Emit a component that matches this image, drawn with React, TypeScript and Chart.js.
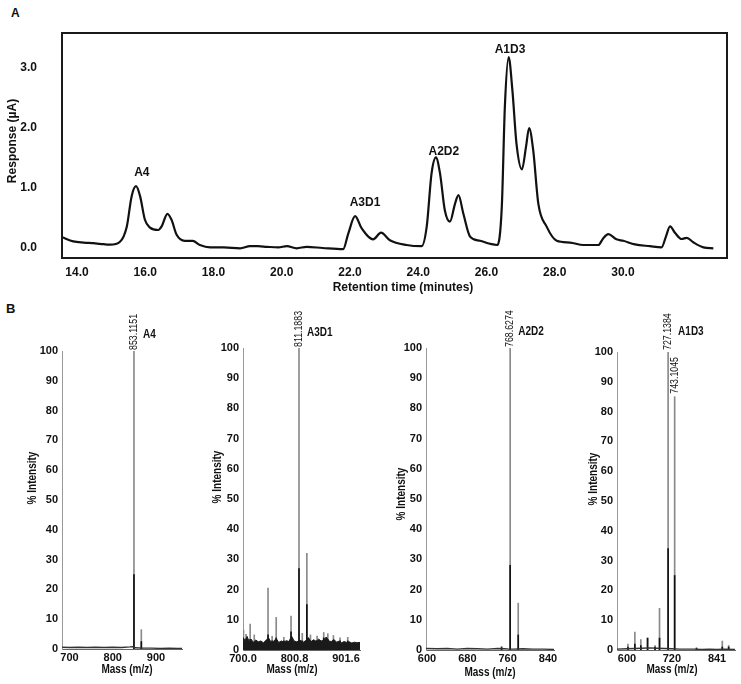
import React, { useEffect, useRef } from "react";
import { Chart, registerables } from "chart.js";
Chart.register(...registerables);

const SANS = '"Liberation Sans", Arial, sans-serif';

// ---------- Panel A: chromatogram ----------
const retentionTime = [13.56, 13.89, 14.2, 14.48, 14.67, 14.97, 15.26, 15.46, 15.6, 15.73, 15.85, 15.99, 16.14, 16.38, 16.48, 16.65, 16.77, 16.92, 17.16, 17.39, 17.6, 17.9, 18.3, 18.78, 19.07, 19.3, 19.56, 19.9, 20.15, 20.44, 20.73, 21.2, 21.8, 21.95, 22.15, 22.34, 22.68, 22.91, 23.17, 23.66, 24.1, 24.25, 24.39, 24.52, 24.64, 24.78, 24.93, 25.08, 25.18, 25.32, 25.52, 25.81, 26.1, 26.32, 26.45, 26.54, 26.65, 26.76, 26.88, 27.04, 27.16, 27.25, 27.37, 27.52, 27.76, 28.06, 28.45, 28.84, 29.28, 29.42, 29.57, 29.81, 30.01, 30.35, 30.79, 31.13, 31.26, 31.38, 31.53, 31.72, 31.87, 32.06, 32.36, 32.65];
const responseUA = [0.18, 0.11, 0.09, 0.08, 0.07, 0.055, 0.105, 0.36, 0.86, 1.03, 0.86, 0.47, 0.34, 0.3, 0.36, 0.57, 0.47, 0.22, 0.12, 0.12, 0.05, 0.01, 0.01, -0.005, 0.03, 0.03, 0.02, 0.01, 0.03, -0.005, 0.02, 0.0, -0.02, 0.24, 0.53, 0.33, 0.145, 0.255, 0.13, 0.05, 0.03, 0.36, 1.24, 1.51, 1.24, 0.63, 0.44, 0.74, 0.88, 0.58, 0.19, 0.12, 0.07, 0.05, 0.69, 2.36, 3.18, 2.63, 1.74, 1.31, 1.69, 2.0, 1.63, 0.74, 0.36, 0.12, 0.09, 0.05, 0.05, 0.16, 0.23, 0.145, 0.12, 0.06, 0.03, 0.01, 0.19, 0.36, 0.25, 0.15, 0.17, 0.095, 0.01, -0.005];
const chromTicksX = [14, 16, 18, 20, 22, 24, 26, 28, 30];
const chromTicksY = [0, 1, 2, 3];
const chromPeakNames = ["A4", "A3D1", "A2D2", "A1D3"];
const chromPeakNameTime = [15.9, 22.44, 24.75, 26.69];
const chromPeakNameResp = [1.25, 0.75, 1.6, 3.3];

// ---------- Panel B: mass spectra ----------
const intensityTicks = [0, 10, 20, 30, 40, 50, 60, 70, 80, 90, 100];

// A4
const a4TicksX = [700, 800, 900];
const a4TickLabels = ["700", "800", "900"];
const a4PeakMass = [849, 866];
const a4PeakTop = [100, 6.5];
const a4PeakCore = [25, 2.5];
const a4BaseMass = [683, 700, 720, 740, 760, 780, 800, 820, 840, 846, 852, 870, 890, 910, 930, 950, 960];
const a4BaseVal = [0.6, 0.5, 0.6, 0.5, 0.6, 0.5, 0.6, 0.5, 0.7, 0.8, 0.4, 0.3, 0.3, 0.2, 0.3, 0.2, 0.2];

// A3D1
const a3d1TicksX = [700.0, 800.8, 901.6];
const a3d1TickLabels = ["700.0", "800.8", "901.6"];
const a3d1PeakMass = [701, 706, 714, 722, 749, 757, 765, 780, 794, 809.6, 816, 825, 832, 845, 858, 866, 877, 890, 905];
const a3d1PeakTop = [6.6, 5.2, 8.6, 5.0, 20.5, 4.5, 10.8, 4.2, 11.2, 100, 5.5, 32, 5.0, 4.6, 5.8, 5.4, 4.8, 4.0, 4.2];
const a3d1PeakCore = [3, 3, 3.5, 2.5, 5, 3, 4, 3, 6, 27, 3, 15, 3, 3, 4, 3.5, 3, 3, 3];
const a3d1NoiseMass = [700, 704, 708, 712, 716, 720, 725, 730, 735, 740, 745, 750, 755, 760, 765, 770, 775, 780, 785, 790, 795, 800, 805, 812, 818, 822, 828, 833, 838, 843, 848, 853, 858, 863, 868, 873, 878, 883, 888, 893, 898, 903, 908, 913, 918, 923, 929];
const a3d1NoiseTop = [4.2, 3.1, 4.5, 2.8, 3.6, 2.5, 3.3, 2.7, 3.0, 2.4, 3.2, 4.0, 2.6, 2.9, 3.8, 2.5, 3.0, 2.6, 3.1, 2.8, 4.6, 3.0, 2.7, 3.2, 2.6, 3.0, 4.1, 2.7, 3.4, 2.9, 3.6, 3.0, 3.2, 4.3, 3.0, 2.8, 3.5, 2.6, 2.9, 2.4, 2.8, 2.5, 2.7, 2.3, 2.6, 2.4, 2.5];

// A2D2
const a2d2TicksX = [600, 680, 760, 840];
const a2d2TickLabels = ["600", "680", "760", "840"];
const a2d2PeakMass = [748, 765, 781];
const a2d2PeakTop = [1.2, 100, 15.5];
const a2d2PeakCore = [0.8, 28, 5];
const a2d2BaseMass = [598, 620, 640, 660, 680, 700, 720, 740, 755, 762, 772, 790, 810, 830, 852];
const a2d2BaseVal = [0.5, 0.4, 0.5, 0.3, 0.5, 0.4, 0.3, 0.5, 0.4, 0.3, 0.3, 0.4, 0.3, 0.3, 0.2];

// A1D3
const a1d3TicksX = [600, 720, 841];
const a1d3TickLabels = ["600", "720", "841"];
const a1d3PeakMass = [602.5, 621, 637, 655, 675, 687, 710, 727.5, 786, 855, 872];
const a1d3PeakTop = [2.0, 6.0, 3.5, 4.0, 1.5, 14, 100, 85, 0.8, 3.0, 1.5];
const a1d3PeakCore = [1, 2, 1.5, 4, 1, 4, 34, 25, 0.5, 1, 1];
const a1d3BaseMass = [573, 600, 620, 640, 660, 680, 700, 720, 740, 760, 780, 800, 820, 840, 860, 889];
const a1d3BaseVal = [0.3, 0.4, 0.5, 0.6, 0.7, 0.6, 0.5, 0.4, 0.3, 0.3, 0.3, 0.2, 0.3, 0.2, 0.3, 0.2];

type Box = { x: number; y: number; w: number; h: number };
type Area = { l: number; t: number; r: number; b: number };
type TextItem = {
  text: string;
  font: string;
  page?: [number, number];
  data?: [number, number];
  dx?: number;
  dy?: number;
  rotate?: number;
  sx?: number;
  align?: CanvasTextAlign;
  baseline?: CanvasTextBaseline;
  color?: string;
};

function textLayer(box: Box, items: TextItem[]) {
  return {
    id: "textLayer",
    afterDraw(chart: any) {
      const ctx = chart.ctx;
      for (const it of items) {
        let x = 0;
        let y = 0;
        if (it.data) {
          x = chart.scales.x.getPixelForValue(it.data[0]);
          y = chart.scales.y.getPixelForValue(it.data[1]);
        } else if (it.page) {
          x = it.page[0] - box.x;
          y = it.page[1] - box.y;
        }
        x += it.dx || 0;
        y += it.dy || 0;
        ctx.save();
        ctx.translate(x, y);
        if (it.rotate) ctx.rotate(it.rotate);
        if (it.sx) ctx.scale(it.sx, 1);
        ctx.font = it.font;
        ctx.fillStyle = it.color || "#111";
        ctx.textAlign = it.align || "center";
        ctx.textBaseline = it.baseline || "middle";
        ctx.fillText(it.text, 0, 0);
        ctx.restore();
      }
    },
  };
}

const frameBox = {
  id: "frameBox",
  afterDatasetsDraw(chart: any) {
    const { ctx, chartArea: a } = chart;
    ctx.save();
    ctx.strokeStyle = "#1a1a1a";
    ctx.lineWidth = 2;
    ctx.strokeRect(a.left, a.top, a.right - a.left, a.bottom - a.top);
    ctx.restore();
  },
};

function frame(box: Box, area: Area) {
  return {
    padding: { left: 0, top: area.t - box.y, right: box.x + box.w - area.r, bottom: 0 },
    yWidth: area.l - box.x,
    xHeight: box.y + box.h - area.b,
  };
}

function ChartCanvas({ box, build }: { box: Box; build: () => any }) {
  const ref = useRef<HTMLCanvasElement>(null);
  useEffect(() => {
    const chart = new Chart(ref.current as HTMLCanvasElement, build());
    return () => chart.destroy();
  }, []);
  return (
    <canvas
      ref={ref}
      width={box.w}
      height={box.h}
      style={{ position: "absolute", left: box.x, top: box.y, width: box.w, height: box.h }}
    />
  );
}

// ---------- Panel A config ----------
const chromBox: Box = { x: 0, y: 0, w: 741, h: 300 };
const chromArea: Area = { l: 62, t: 33, r: 727, b: 258 };

function buildChrom() {
  const f = frame(chromBox, chromArea);
  const items: TextItem[] = [
    { text: "Retention time (minutes)", font: `bold 12px ${SANS}`, page: [403, 288] },
    { text: "Response (\u00b5A)", font: `bold 12px ${SANS}`, page: [13, 141], rotate: -Math.PI / 2 },
    ...chromPeakNames.map((n, i) => ({
      text: n,
      font: `bold 12px ${SANS}`,
      data: [chromPeakNameTime[i], chromPeakNameResp[i]] as [number, number],
    })),
  ];
  return {
    type: "line",
    data: {
      datasets: [
        {
          data: retentionTime.map((t, i) => ({ x: t, y: responseUA[i] })),
          borderColor: "#111",
          borderWidth: 2.2,
          pointRadius: 0,
          cubicInterpolationMode: "monotone",
          fill: false,
        },
      ],
    },
    options: {
      animation: false,
      responsive: false,
      events: [],
      layout: { padding: f.padding },
      plugins: { legend: { display: false }, tooltip: { enabled: false } },
      scales: {
        x: {
          type: "linear",
          min: 13.56,
          max: 33.05,
          grid: { display: false, drawTicks: false },
          border: { display: false },
          afterBuildTicks: (s: any) => {
            s.ticks = chromTicksX.map((v) => ({ value: v }));
          },
          afterFit: (s: any) => {
            s.height = f.xHeight;
          },
          ticks: {
            padding: 7,
            autoSkip: false,
            maxRotation: 0,
            color: "#111",
            font: { family: SANS, size: 12, weight: "bold" },
            callback: (v: any) => Number(v).toFixed(1),
          },
        },
        y: {
          type: "linear",
          min: -0.1667,
          max: 3.583,
          grid: { display: false, drawTicks: false },
          border: { display: false },
          afterBuildTicks: (s: any) => {
            s.ticks = chromTicksY.map((v) => ({ value: v }));
          },
          afterFit: (s: any) => {
            s.width = f.yWidth;
          },
          ticks: {
            padding: 25,
            color: "#111",
            font: { family: SANS, size: 12, weight: "bold" },
            callback: (v: any) => Number(v).toFixed(1),
          },
        },
      },
    },
    plugins: [frameBox, textLayer(chromBox, items)],
  };
}

// ---------- Panel B config ----------
type Spec = {
  box: Box;
  area: Area;
  range: [number, number];
  ticksX: number[];
  tickLabels: string[];
  peakMass: number[];
  peakTop: number[];
  peakCore: number[];
  baseMass?: number[];
  baseVal?: number[];
  noiseMass?: number[];
  noiseTop?: number[];
  texts: TextItem[];
};

function buildSpec(s: Spec) {
  const f = frame(s.box, s.area);
  const datasets: any[] = [
    {
      type: "bar",
      data: s.peakMass.map((m, i) => ({ x: m, y: s.peakTop[i] })),
      backgroundColor: "#8a8a8a",
      barThickness: 1,
      grouped: false,
      borderWidth: 0,
      order: 4,
    },
    {
      type: "bar",
      data: s.peakMass.map((m, i) => ({ x: m, y: s.peakCore[i] })),
      backgroundColor: "#111",
      barThickness: 1,
      grouped: false,
      borderWidth: 0,
      order: 3,
    },
  ];
  if (s.baseMass && s.baseVal) {
    datasets.push({
      type: "line",
      data: s.baseMass.map((m, i) => ({ x: m, y: s.baseVal![i] })),
      borderColor: "#333",
      borderWidth: 1.4,
      pointRadius: 0,
      fill: false,
      order: 2,
    });
  }
  if (s.noiseMass && s.noiseTop) {
    datasets.push({
      type: "line",
      data: s.noiseMass.map((m, i) => ({ x: m, y: s.noiseTop![i] })),
      borderColor: "#1a1a1a",
      backgroundColor: "#1a1a1a",
      borderWidth: 1,
      pointRadius: 0,
      fill: "origin",
      order: 1,
    });
  }
  return {
    type: "bar",
    data: { datasets },
    options: {
      animation: false,
      responsive: false,
      events: [],
      layout: { padding: f.padding },
      plugins: { legend: { display: false }, tooltip: { enabled: false } },
      scales: {
        x: {
          type: "linear",
          min: s.range[0],
          max: s.range[1],
          offset: false,
          grid: { display: false, drawTicks: false },
          border: { display: true, color: "#666", width: 1 },
          afterBuildTicks: (sc: any) => {
            sc.ticks = s.ticksX.map((v) => ({ value: v }));
          },
          afterFit: (sc: any) => {
            sc.height = f.xHeight;
          },
          ticks: {
            padding: 2,
            autoSkip: false,
            maxRotation: 0,
            color: "#111",
            font: { family: SANS, size: 11, weight: "bold" },
            callback: (_v: any, i: number) => s.tickLabels[i],
          },
        },
        y: {
          type: "linear",
          min: 0,
          max: 100,
          grid: { display: false, drawTicks: false },
          border: { display: true, color: "#999", width: 1 },
          afterBuildTicks: (sc: any) => {
            sc.ticks = intensityTicks.map((v) => ({ value: v }));
          },
          afterFit: (sc: any) => {
            sc.width = f.yWidth;
          },
          ticks: {
            padding: 4,
            color: "#111",
            font: { family: SANS, size: 11, weight: "bold" },
            callback: (v: any) => String(v),
          },
        },
      },
    },
    plugins: [textLayer(s.box, s.texts)],
  };
}

const TITLE_B = `bold 12.5px ${SANS}`;
const MASS_LABEL = `11px ${SANS}`;
const NAME_B = `bold 12.5px ${SANS}`;
const UP = -Math.PI / 2;
const NARROW = 0.8;

const specs: Spec[] = [
  {
    box: { x: 0, y: 300, w: 200, h: 384 },
    area: { l: 62, t: 351, r: 182, b: 649 },
    range: [682.7, 960],
    ticksX: a4TicksX,
    tickLabels: a4TickLabels,
    peakMass: a4PeakMass,
    peakTop: a4PeakTop,
    peakCore: a4PeakCore,
    baseMass: a4BaseMass,
    baseVal: a4BaseVal,
    texts: [
      { text: "% Intensity", font: TITLE_B, page: [33, 478], rotate: UP, sx: NARROW },
      { text: "Mass (m/z)", font: TITLE_B, page: [127, 670], sx: NARROW },
      { text: "853.1151", font: MASS_LABEL, data: [a4PeakMass[0], 100], dy: -1, rotate: UP, align: "left", sx: NARROW },
      { text: "A4", font: NAME_B, data: [a4PeakMass[0], 100], dx: 9, dy: -16, align: "left", sx: NARROW },
    ],
  },
  {
    box: { x: 200, y: 300, w: 180, h: 384 },
    area: { l: 243, t: 348, r: 360, b: 650 },
    range: [700, 929],
    ticksX: a3d1TicksX,
    tickLabels: a3d1TickLabels,
    peakMass: a3d1PeakMass,
    peakTop: a3d1PeakTop,
    peakCore: a3d1PeakCore,
    noiseMass: a3d1NoiseMass,
    noiseTop: a3d1NoiseTop,
    texts: [
      { text: "% Intensity", font: TITLE_B, page: [218, 477], rotate: UP, sx: NARROW },
      { text: "Mass (m/z)", font: TITLE_B, page: [292, 670], sx: NARROW },
      { text: "811.1883", font: MASS_LABEL, data: [809.6, 100], dy: -1, rotate: UP, align: "left", sx: NARROW },
      { text: "A3D1", font: NAME_B, data: [809.6, 100], dx: 8, dy: -15, align: "left", sx: NARROW },
    ],
  },
  {
    box: { x: 380, y: 300, w: 190, h: 384 },
    area: { l: 426, t: 348, r: 554, b: 650 },
    range: [598, 852],
    ticksX: a2d2TicksX,
    tickLabels: a2d2TickLabels,
    peakMass: a2d2PeakMass,
    peakTop: a2d2PeakTop,
    peakCore: a2d2PeakCore,
    baseMass: a2d2BaseMass,
    baseVal: a2d2BaseVal,
    texts: [
      { text: "% Intensity", font: TITLE_B, page: [402, 494], rotate: UP, sx: NARROW },
      { text: "Mass (m/z)", font: TITLE_B, page: [490, 673], sx: NARROW },
      { text: "768.6274", font: MASS_LABEL, data: [765, 100], dy: -1, rotate: UP, align: "left", sx: NARROW },
      { text: "A2D2", font: NAME_B, data: [765, 100], dx: 8, dy: -16, align: "left", sx: NARROW },
    ],
  },
  {
    box: { x: 572, y: 300, w: 169, h: 384 },
    area: { l: 617, t: 352, r: 735, b: 650 },
    range: [573.2, 889],
    ticksX: a1d3TicksX,
    tickLabels: a1d3TickLabels,
    peakMass: a1d3PeakMass,
    peakTop: a1d3PeakTop,
    peakCore: a1d3PeakCore,
    baseMass: a1d3BaseMass,
    baseVal: a1d3BaseVal,
    texts: [
      { text: "% Intensity", font: TITLE_B, page: [594, 479], rotate: UP, sx: NARROW },
      { text: "Mass (m/z)", font: TITLE_B, page: [672, 670], sx: NARROW },
      { text: "727.1384", font: MASS_LABEL, data: [710, 100], dy: -2, rotate: UP, align: "left", sx: NARROW },
      { text: "743.1045", font: MASS_LABEL, data: [727.5, 85], dy: -3, rotate: UP, align: "left", sx: NARROW },
      { text: "A1D3", font: NAME_B, data: [710, 100], dx: 10, dy: -20, align: "left", sx: NARROW },
    ],
  },
];

export default function App() {
  return (
    <div style={{ position: "absolute", left: 0, top: 0, width: 741, height: 684, background: "#fff", overflow: "hidden" }}>
      <div style={{ position: "absolute", left: 11, top: 6, font: `bold 12px ${SANS}`, lineHeight: "14px", color: "#111" }}>A</div>
      <div style={{ position: "absolute", left: 6, top: 301, font: `bold 13px ${SANS}`, lineHeight: "15px", color: "#111" }}>B</div>
      <ChartCanvas box={chromBox} build={buildChrom} />
      {specs.map((s, i) => (
        <ChartCanvas key={i} box={s.box} build={() => buildSpec(s)} />
      ))}
    </div>
  );
}
